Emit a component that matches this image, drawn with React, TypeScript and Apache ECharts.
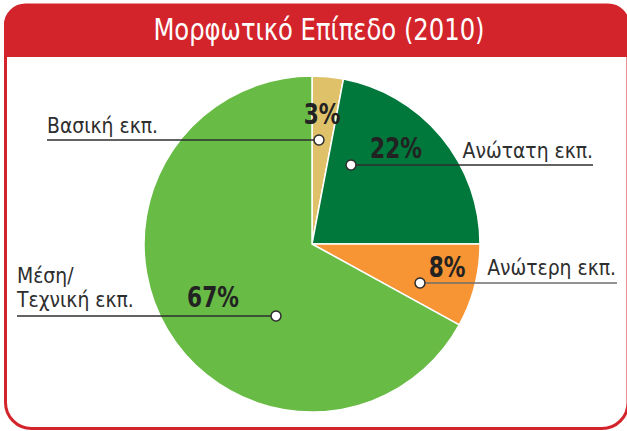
import React, { useEffect, useRef } from 'react';
import * as echarts from 'echarts';

const categories = ['Βασική εκπ.', 'Ανώτατη εκπ.', 'Ανώτερη εκπ.', 'Μέση/\nΤεχνική εκπ.'];
const values = [3, 22, 8, 67];
const sliceColors = ['#dfc16a', '#00773b', '#f79433', '#68bb45'];
const titleText = 'Μορφωτικό Επίπεδο (2010)';

// annotation layout (pixels): marker point, far end of leader line, name anchor, percent anchor
const markerPoints = [[319, 140], [351, 165], [420, 283], [276, 316]];
const lineEndX = [47, 593, 617, 17];
const lineColors = ['#2e2e2e', '#2e2e2e', '#6e6e6e', '#2e2e2e'];
const nameAnchors = [
  { x: 47, y: 125, align: 'left' },
  { x: 593, y: 150, align: 'right' },
  { x: 616, y: 267, align: 'right' },
  { x: 17, y: 287, align: 'left' },
];
const pctAnchors = [[322, 114], [396, 148], [447, 267], [213, 297]];

const RED = '#d3242c';
const W = 627;
const H = 431;
const FONT = '"DejaVu Sans Condensed", "DejaVu Sans", sans-serif';

export default function App() {
  const ref = useRef<HTMLDivElement>(null);
  useEffect(() => {
    if (!ref.current) return;
    const chart = echarts.init(ref.current, undefined, { renderer: 'svg' });

    const annotations: any[] = [];
    categories.forEach((name, i) => {
      const [mx, my] = markerPoints[i];
      annotations.push({
        type: 'line',
        z: 10,
        shape: { x1: lineEndX[i], y1: my, x2: mx, y2: my },
        style: { stroke: lineColors[i], lineWidth: 1.5 },
      });
      annotations.push({
        type: 'circle',
        z: 11,
        shape: { cx: mx, cy: my, r: 5 },
        style: { fill: '#ffffff', stroke: '#2e2e2e', lineWidth: 1.5 },
      });
      annotations.push({
        type: 'text',
        z: 12,
        x: nameAnchors[i].x,
        y: nameAnchors[i].y,
        scaleX: 0.95,
        style: {
          text: name,
          fill: '#2e2e2e',
          fontSize: 22,
          lineHeight: 24,
          fontFamily: FONT,
          align: nameAnchors[i].align,
          verticalAlign: 'middle',
        },
      });
      annotations.push({
        type: 'text',
        z: 12,
        x: pctAnchors[i][0],
        y: pctAnchors[i][1],
        scaleX: 0.83,
        style: {
          text: values[i] + '%',
          fill: '#222222',
          fontSize: 29,
          fontWeight: 'bold',
          fontFamily: FONT,
          align: 'center',
          verticalAlign: 'middle',
        },
      });
    });

    chart.setOption({
      animation: false,
      backgroundColor: '#ffffff',
      color: sliceColors,
      graphic: [
        {
          type: 'rect',
          z: -10,
          silent: true,
          shape: { x: 5.5, y: 5, width: 622.5, height: 423.5, r: [20, 20, 26, 26] },
          style: { fill: '#ffffff', stroke: RED, lineWidth: 3 },
        },
        {
          type: 'rect',
          z: -9,
          silent: true,
          shape: { x: 4, y: 4, width: 625, height: 53, r: [22, 22, 0, 0] },
          style: { fill: RED },
        },
        {
          type: 'text',
          z: -8,
          x: 319,
          y: 30,
          scaleX: 0.9,
          style: {
            text: titleText,
            fill: '#ffffff',
            fontSize: 30,
            fontFamily: FONT,
            align: 'center',
            verticalAlign: 'middle',
          },
        },
        ...annotations,
      ],
      series: [
        {
          type: 'pie',
          center: [312, 244],
          radius: [0, 168],
          startAngle: 90,
          clockwise: true,
          silent: true,
          label: { show: false },
          labelLine: { show: false },
          itemStyle: { borderColor: '#ffffff', borderWidth: 1.5 },
          data: categories.map((c, i) => ({ name: c, value: values[i] })),
        },
      ],
    });
    return () => chart.dispose();
  }, []);
  return (
    <div
      ref={ref}
      style={{ position: 'fixed', left: 0, top: 0, width: W, height: H }}
    />
  );
}
